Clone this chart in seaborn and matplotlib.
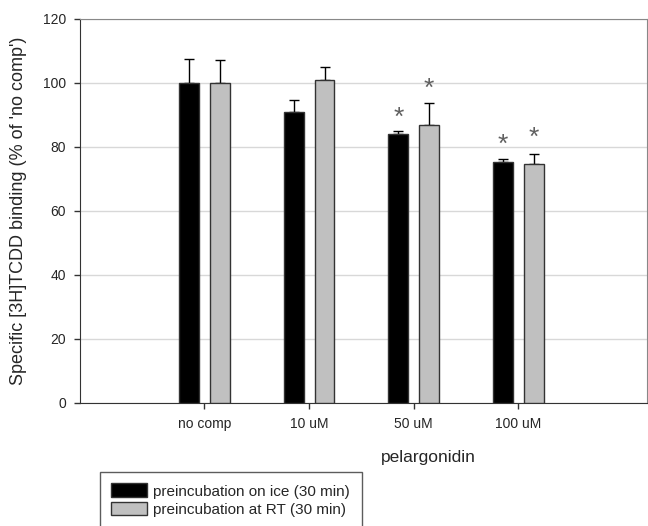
import pandas as pd
import seaborn as sns
from matplotlib import pyplot as plt

# Data
categories = ['no comp', '10 uM', '50 uM', '100 uM']
ice_mean = [100, 90.9, 84.0, 75.2]
ice_err = [7.5, 3.9, 1.1, 1.0]
rt_mean = [100, 100.9, 86.9, 74.6]
rt_err = [7.2, 4.0, 6.9, 3.2]
ice_label = 'preincubation on ice (30 min)'
rt_label = 'preincubation at RT (30 min)'
# asterisk heights (value units) per bar; None = no asterisk
ice_star = [None, None, 89.1, 80.8]
rt_star = [None, None, 98.1, 82.9]

df = pd.DataFrame({
    'conc': categories * 2,
    'binding': ice_mean + rt_mean,
    'group': [ice_label] * 4 + [rt_label] * 4,
})

sns.set_style('white')
plt.rcParams['font.family'] = ['Liberation Sans', 'DejaVu Sans']

fig = plt.figure(figsize=(6.48, 5.26), dpi=100)
ax = fig.add_axes([80 / 648, 1 - 403 / 526, 567 / 648, 384 / 526])

sns.barplot(data=df, x='conc', y='binding', hue='group',
            palette=['black', '#c0c0c0'], width=0.59, gap=0.36,
            errorbar=None, edgecolor='#333333', linewidth=1, ax=ax, zorder=3)

# upper error bars and asterisks
for cont, err, stars in zip(ax.containers, [ice_err, rt_err], [ice_star, rt_star]):
    xs = [b.get_x() + b.get_width() / 2 for b in cont]
    hs = [b.get_height() for b in cont]
    ax.errorbar(xs, hs, yerr=[[0] * len(err), err], fmt='none', ecolor='black',
                elinewidth=1, capsize=3.5, capthick=1, zorder=2)
    for x, s in zip(xs, stars):
        if s is not None:
            ax.text(x, s, '*', ha='center', va='center', fontsize=19, color='#606060')

ax.set_ylim(0, 120)
ax.set_xlim(-1.19, 4.23)
ax.set_yticks(range(0, 121, 20))
ax.yaxis.grid(True, color='#d8d8d8', linewidth=1, zorder=0)
ax.set_axisbelow(True)
for side in ['top', 'right']:
    ax.spines[side].set_color('#888888')
for side in ['left', 'bottom']:
    ax.spines[side].set_color('#333333')
ax.tick_params(axis='both', direction='out', length=4, width=1, color='#333333',
               labelsize=10, pad=6, left=True, bottom=True)
ax.set_xlabel('pelargonidin', fontsize=12.5)
ax.xaxis.set_label_coords((428 - 80) / 567, -47 / 384)
ax.set_ylabel("Specific [3H]TCDD binding (% of 'no comp')", fontsize=13)
ax.yaxis.set_label_coords(-53 / 567, 0.5)

handles, labels = ax.get_legend_handles_labels()
ax.get_legend().remove()
leg = fig.legend(handles, labels, loc='upper left', bbox_to_anchor=(100 / 648, 1 - 472 / 526),
                 frameon=True, fancybox=False, edgecolor='#333333', fontsize=11,
                 handlelength=2.3, handleheight=1.0, handletextpad=0.45,
                 borderpad=0.75, labelspacing=0.2, borderaxespad=0)
leg.get_frame().set_linewidth(1)

fig.savefig('out.png', dpi=100)
